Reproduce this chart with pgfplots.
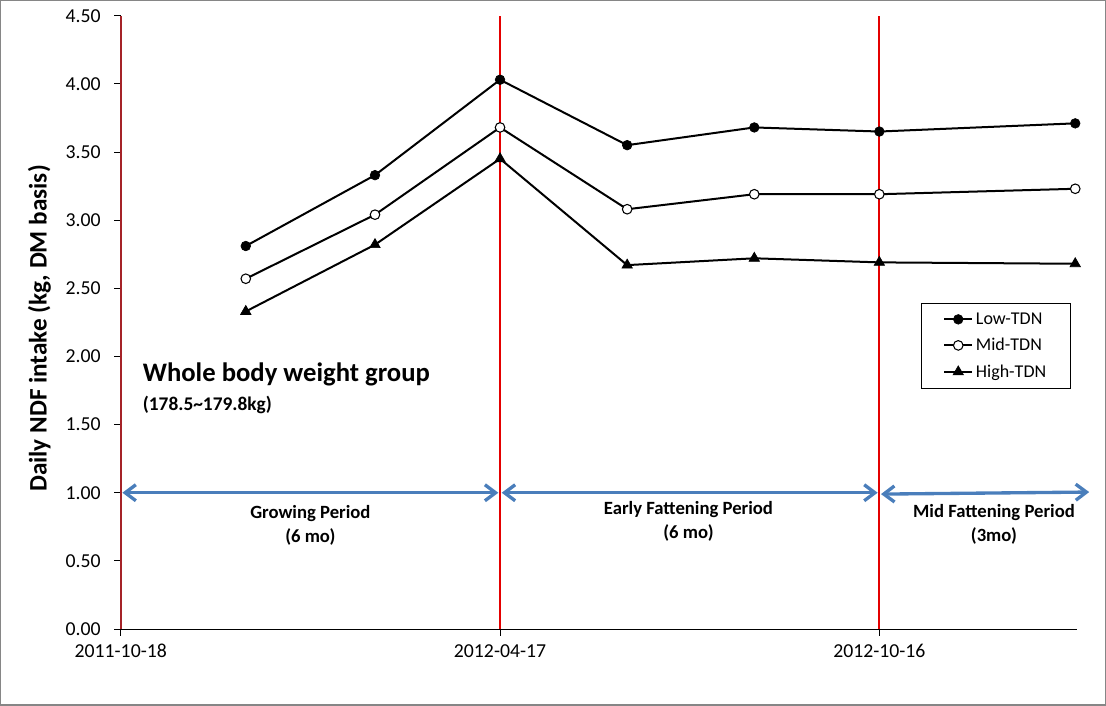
\documentclass[border=0pt]{standalone}
\usepackage{pgfplots}
\pgfplotsset{compat=1.18}
\usepackage{fontspec}
\setmainfont{Carlito}
\usetikzlibrary{arrows.meta}
\definecolor{axred}{RGB}{165,35,40}
\definecolor{vred}{RGB}{228,0,0}
\definecolor{arrblue}{RGB}{74,126,187}
\definecolor{framegray}{RGB}{134,134,134}
\begin{document}
\begin{tikzpicture}
\begin{axis}[
  at={(0,0)}, anchor=south west,
  scale only axis, width=717pt, height=459.75pt,
  xmin=0, xmax=459, ymin=0, ymax=4.5,
  axis x line*=bottom, axis y line*=left,
  x axis line style={black, line width=0.75pt, -},
  y axis line style={axred, line width=1.5pt, -},
  xtick={0,182,364}, xticklabels={2011-10-18,2012-04-17,2012-10-16},
  ytick={0,0.5,1,1.5,2,2.5,3,3.5,4,4.5},
  yticklabel={\pgfmathprintnumber[fixed,fixed zerofill,precision=2]{\tick}},
  /pgf/number format/assume math mode=true,
  tick align=outside, major tick length=5pt,
  tick style={black, line width=0.6pt},
  ticklabel style={font=\fontsize{14.8}{17}\selectfont},
  yticklabel style={xshift=-6.5pt},
  xticklabel style={yshift=-3pt},
  clip=false,
  ylabel={\bfseries Daily NDF intake (kg, DM basis)},
  every axis y label/.style={at={(axis description cs:0,0.49)}, xshift=-61pt, rotate=90, anchor=center, font=\fontsize{18.9}{22}\selectfont},
  legend style={at={(0.837,0.532)}, anchor=north west, draw=black, line width=0.75pt,
    font=\fontsize{13.5}{15}\selectfont, row sep=5pt, inner xsep=16pt, inner ysep=5pt,
    cells={anchor=west}},
  legend image code/.code={\draw[#1, mark repeat=2, mark phase=2] plot coordinates {(0pt,0pt)(10.5pt,0pt)(21pt,0pt)};},
]
% vertical period lines
\addplot[vred, line width=1.5pt, forget plot] coordinates {(182,0)(182,4.5)};
\addplot[vred, line width=1.5pt, forget plot] coordinates {(364,0)(364,4.5)};
% period arrows
\addplot[arrblue, line width=2.5pt, <->, >={Straight Barb[length=8pt,width=12pt]}, forget plot] coordinates {(0.8,1.0)(181.2,1.0)};
\addplot[arrblue, line width=2.5pt, <->, >={Straight Barb[length=8pt,width=12pt]}, forget plot] coordinates {(182.8,1.0)(363.2,1.0)};
\addplot[arrblue, line width=2.5pt, <->, >={Straight Barb[length=8pt,width=12pt]}, forget plot] coordinates {(364.8,0.99)(464.7,1.005)};
% series
\addplot[black, line width=1.5pt, mark=*, mark size=3.6pt, mark options={fill=black, line width=0.5pt}]
  coordinates {(60,2.81)(122,3.33)(182,4.03)(243,3.55)(304,3.68)(364,3.65)(458,3.71)};
\addlegendentry{Low-TDN}
\addplot[black, line width=1.5pt, mark=*, mark size=3.6pt, mark options={fill=white, line width=0.8pt}]
  coordinates {(60,2.57)(122,3.04)(182,3.68)(243,3.08)(304,3.19)(364,3.19)(458,3.23)};
\addlegendentry{Mid-TDN}
\addplot[black, line width=1.5pt, mark=triangle*, mark size=4.5pt, mark options={fill=black, line width=0.5pt}]
  coordinates {(60,2.33)(122,2.82)(182,3.45)(243,2.67)(304,2.72)(364,2.69)(458,2.68)};
\addlegendentry{High-TDN}
% annotations
\node[inner sep=0pt, anchor=west, font=\bfseries\fontsize{20}{24}\selectfont] at (axis cs:10.5,1.865) {Whole body weight group};
\node[inner sep=0pt, anchor=west, font=\bfseries\fontsize{14.5}{17}\selectfont] at (axis cs:10.5,1.645) {(178.5\textasciitilde179.8kg)};
\node[align=center, font=\bfseries\fontsize{14}{18}\selectfont] at (axis cs:91,0.764) {Growing Period\\(6 mo)};
\node[align=center, font=\bfseries\fontsize{14}{18}\selectfont] at (axis cs:272.4,0.79) {Early Fattening Period\\(6 mo)};
\node[align=center, font=\bfseries\fontsize{14}{18}\selectfont] at (axis cs:419,0.77) {Mid Fattening Period\\(3mo)};
\end{axis}
\draw[framegray, line width=1pt] (-90pt,-57pt) rectangle (738pt,471pt);
\end{tikzpicture}
\end{document}
